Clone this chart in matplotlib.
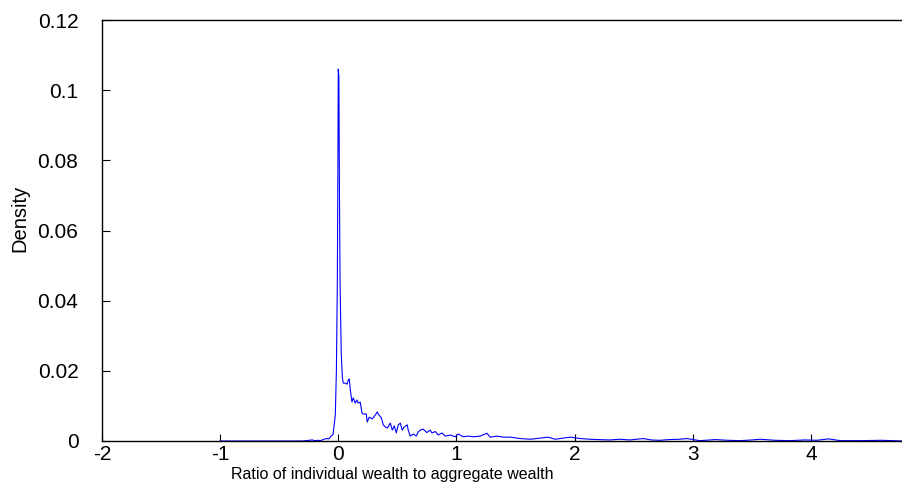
import matplotlib
matplotlib.use("Agg")
import matplotlib.pyplot as plt
import numpy as np

################## Data #########################################################

ratio = [-1.0, -0.6, -0.3, -0.22, -0.2, -0.17, -0.15, -0.12, -0.1, -0.08,
         -0.06, -0.045, -0.035, -0.025, -0.016, -0.008, -0.003, 0.0, 0.005,
         0.01, 0.015, 0.025, 0.035, 0.042, 0.059, 0.074, 0.085, 0.093, 0.102,
         0.116, 0.127, 0.144, 0.158, 0.169, 0.186, 0.2, 0.212, 0.237, 0.245,
         0.262, 0.288, 0.313, 0.33, 0.338, 0.364, 0.381, 0.398, 0.415, 0.44,
         0.457, 0.474, 0.491, 0.508, 0.525, 0.541, 0.558, 0.584, 0.592, 0.609,
         0.635, 0.66, 0.677, 0.694, 0.719, 0.75, 0.778, 0.793, 0.821, 0.846,
         0.877, 0.905, 0.948, 0.99, 1.015, 1.058, 1.1, 1.142, 1.2, 1.258,
         1.286, 1.343, 1.396, 1.455, 1.54, 1.624, 1.68, 1.777, 1.836, 1.9,
         1.963, 2.047, 2.13, 2.2, 2.3, 2.38, 2.47, 2.58, 2.65, 2.72, 2.8,
         2.89, 2.95, 3.06, 3.19, 3.3, 3.4, 3.5, 3.57, 3.7, 3.82, 3.95, 4.05,
         4.15, 4.25, 4.42, 4.6, 4.78]
density = [0.0, 0.0, 0.0, 0.0003, 0.0001, 0.0002, 0.0001, 0.0005, 0.0007, 0.0006,
           0.0014, 0.0018, 0.0045, 0.0075, 0.02, 0.045, 0.08, 0.106, 0.104,
           0.07, 0.045, 0.025, 0.018, 0.0165, 0.0165, 0.0162, 0.0174, 0.0177, 0.0145,
           0.0111, 0.0123, 0.0108, 0.0117, 0.0108, 0.0111, 0.008, 0.0077, 0.0077, 0.0054,
           0.0068, 0.0063, 0.0074, 0.0083, 0.0077, 0.0066, 0.0046, 0.004, 0.0037, 0.0051,
           0.0031, 0.0043, 0.0023, 0.0046, 0.0051, 0.0031, 0.004, 0.0046, 0.0031, 0.0014,
           0.002, 0.0014, 0.0026, 0.0031, 0.0034, 0.0024, 0.0031, 0.0023, 0.0027, 0.0017,
           0.0023, 0.0014, 0.0017, 0.0012, 0.002, 0.0012, 0.0014, 0.0012, 0.0014, 0.0022,
           0.0011, 0.0014, 0.0011, 0.0011, 0.0007, 0.0005, 0.0007, 0.0011, 0.0005, 0.0008,
           0.0011, 0.0007, 0.0005, 0.0004, 0.0003, 0.0005, 0.0003, 0.0007, 0.0003, 0.0002, 0.0004,
           0.0005, 0.0007, 0.0001, 0.0004, 0.0002, 0.0001, 0.0003, 0.0005, 0.0002, 0.0001, 0.0003, 0.0002,
           0.0006, 0.0001, 0.0001, 0.0002, 0.0]

xticks = [-2, -1, 0, 1, 2, 3, 4]
yticks = [0, 0.02, 0.04, 0.06, 0.08, 0.1, 0.12]
ytick_labels = ["0", "0.02", "0.04", "0.06", "0.08", "0.1", "0.12"]

################## Figure ######################################################

plt.rcParams['font.family'] = ['Liberation Sans', 'DejaVu Sans']

fig = plt.figure(figsize=(9.03, 4.87), dpi=100)
ax = fig.add_axes([102 / 903, 46 / 487, 801 / 903, 421 / 487])

ax.plot(ratio, density, color="#0000ff", linewidth=0.8)

ax.set_xlim(-2, 4.78)
ax.set_ylim(0, 0.12)
ax.set_xticks(xticks)
ax.set_xticklabels([str(t) for t in xticks])
ax.set_yticks(yticks)
ax.set_yticklabels(ytick_labels)

ax.spines['right'].set_visible(False)
for s in ['left', 'top', 'bottom']:
    ax.spines[s].set_linewidth(1.0)
ax.tick_params(axis='x', direction='in', length=5, width=0.8, labelsize=15, pad=3)
ax.tick_params(axis='y', direction='in', length=6, width=0.8, labelsize=15, pad=17)

# axis labels placed where they sit in the picture
fig.text(20 / 903, 1 - 218 / 487, "Density", rotation=90, fontsize=14.5,
         ha='center', va='center')
fig.text(392 / 903, 1 - 474 / 487, "Ratio of individual wealth to aggregate wealth",
         family=['Liberation Sans Narrow', 'Liberation Sans'], fontsize=11.5,
         ha='center', va='center')

plt.savefig("out.png", dpi=100)
